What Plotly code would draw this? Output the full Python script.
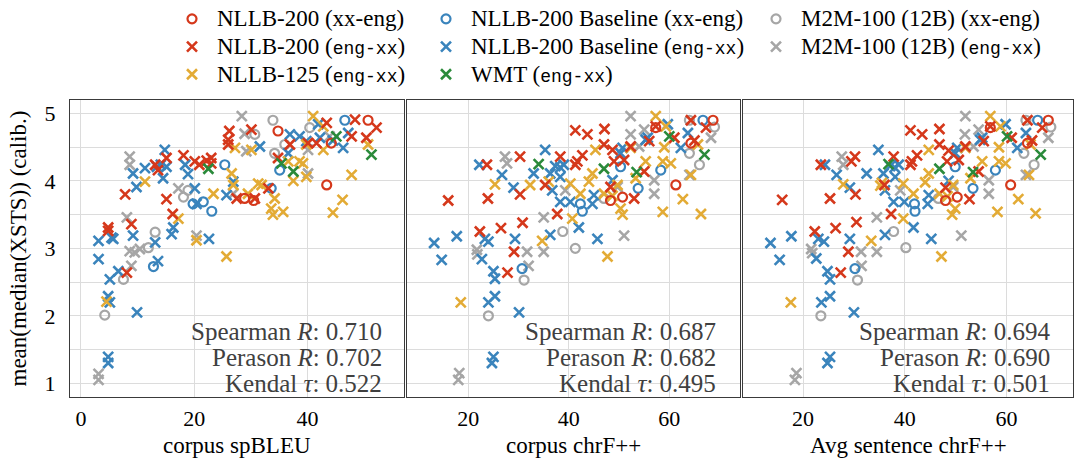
import plotly.graph_objects as go

# ---------------- data ----------------
# Panel 1: corpus spBLEU
p1_nllb_xe_x = [50.7, 34.8, 44.2, 43.4, 28.9, 30.5]
p1_nllb_xe_y = [4.90, 4.74, 4.56, 3.94, 3.74, 3.71]
p1_base_xe_x = [46.6, 35.1, 25.4, 33.6, 19.8, 21.6, 23.1, 12.8]
p1_base_xe_y = [4.90, 4.16, 4.24, 3.89, 3.66, 3.69, 3.55, 2.73]
p1_m2m_xe_x = [33.9, 40.4, 30.7, 36.0, 34.2, 18.1, 18.9, 13.1, 11.9, 7.5, 4.2]
p1_m2m_xe_y = [4.90, 4.79, 4.69, 4.54, 4.41, 3.76, 3.86, 3.24, 3.01, 2.54, 2.01]
p1_nllb_ex_x = [48.4, 52.2, 43.4, 26.2, 30.1, 26.0, 26.0, 36.9, 34.8, 40.1, 41.6, 47.8, 50.4,
                33.1, 27.5, 30.7, 22.2, 23.0, 23.0, 20.1, 20.9, 18.1, 15.1, 16.2, 15.1, 13.1,
                13.6, 7.8, 8.9, 4.8, 4.8, 8.1]
p1_nllb_ex_y = [4.91, 4.79, 4.86, 4.74, 4.76, 4.61, 4.54, 4.54, 4.34, 4.56, 4.56, 4.66, 4.64,
                3.89, 3.74, 3.74, 4.30, 4.34, 4.26, 4.29, 4.24, 4.38, 3.73, 3.51, 4.34, 4.24,
                4.16, 3.80, 3.36, 3.31, 3.26, 2.64]
p1_base_ex_x = [41.9, 36.9, 38.6, 36.6, 39.8, 42.2, 44.5, 47.2, 46.3, 31.6, 26.9, 25.7, 18.4,
                18.9, 20.4, 20.1, 16.3, 16.0, 22.6, 14.8, 15.1, 14.5, 13.4, 14.1, 11.3, 9.2,
                9.8, 5.7, 5.4, 3.1, 9.2, 13.1, 3.1, 13.6, 6.6, 5.1, 4.8, 5.1, 9.9, 4.8, 4.8]
p1_base_ex_y = [4.84, 4.69, 4.66, 4.41, 4.59, 4.64, 4.60, 4.71, 4.49, 4.51, 3.99, 3.79, 4.24,
                4.10, 3.66, 3.89, 3.31, 3.21, 3.14, 4.46, 4.21, 4.04, 4.21, 4.24, 4.19, 4.11,
                3.91, 3.14, 3.16, 3.11, 3.19, 3.09, 2.84, 2.81, 2.66, 2.54, 2.29, 2.20, 2.05,
                1.39, 1.30]
p1_m2m_ex_x = [28.4, 28.9, 29.2, 40.1, 40.1, 43.9, 26.9, 17.2, 8.6, 8.6, 8.1, 20.4, 8.6, 9.5,
               10.4, 8.9, 3.1, 3.1]
p1_m2m_ex_y = [4.96, 4.70, 4.44, 4.11, 4.46, 4.66, 3.81, 3.89, 4.36, 4.24, 3.46, 3.19, 2.96,
               2.94, 2.99, 2.74, 1.14, 1.05]
p1_n125_ex_x = [41.0, 42.8, 27.2, 30.1, 36.6, 38.6, 39.2, 39.8, 37.5, 39.8, 42.8, 50.7, 47.8,
                46.2, 44.5, 34.2, 33.6, 33.9, 35.7, 31.3, 31.9, 29.5, 26.9, 26.6, 23.4, 17.2,
                20.4, 11.3, 25.7, 4.5]
p1_n125_ex_y = [4.96, 4.81, 4.49, 4.46, 4.29, 4.29, 4.26, 4.06, 4.00, 4.54, 4.46, 4.54, 4.09,
                3.72, 3.53, 3.74, 3.59, 3.50, 3.54, 3.96, 3.94, 3.81, 3.94, 4.11, 3.81, 3.44,
                3.12, 3.99, 2.88, 2.21]
p1_wmt_ex_x = [22.5, 35.4, 37.5, 45.1, 51.3]
p1_wmt_ex_y = [4.18, 4.26, 4.14, 4.66, 4.39]

# Panel 2: corpus chrF++
p2_nllb_xe_x = [68.7, 57.3, 64.3, 61.3, 50.7, 48.3]
p2_nllb_xe_y = [4.90, 4.79, 4.56, 3.94, 3.76, 3.71]
p2_base_xe_x = [66.7, 50.3, 58.3, 53.8, 42.3, 42.7, 30.7]
p2_base_xe_y = [4.90, 4.21, 4.16, 3.89, 3.66, 3.55, 2.70]
p2_m2m_xe_x = [64.0, 69.0, 64.0, 66.0, 47.0, 38.8, 41.3, 31.1, 24.0]
p2_m2m_xe_y = [4.90, 4.80, 4.41, 4.24, 3.74, 3.25, 3.00, 2.53, 2.00]
p2_nllb_ex_x = [64.3, 67.3, 57.3, 41.3, 43.7, 47.1, 56.0, 61.0, 65.0, 47.0, 48.7, 52.3, 51.0,
                49.0, 55.0, 48.3, 53.0, 38.3, 41.3, 41.7, 42.7, 30.3, 23.7, 35.3, 30.3, 23.9,
                16.0, 37.7, 30.8, 26.5, 22.3, 29.1, 27.8]
p2_nllb_ex_y = [4.90, 4.79, 4.81, 4.75, 4.69, 4.77, 4.59, 4.64, 4.60, 4.54, 4.46, 4.51, 4.31,
                4.29, 4.14, 3.91, 3.74, 4.36, 4.24, 4.29, 4.38, 4.36, 4.24, 3.94, 3.80, 3.74,
                3.71, 3.51, 3.38, 3.30, 3.25, 2.95, 2.64]
p2_base_ex_x = [59.7, 55.7, 55.3, 63.7, 62.3, 50.7, 50.3, 48.7, 45.0, 44.7, 38.3, 40.3, 36.7,
                38.3, 36.3, 33.0, 37.3, 38.3, 39.0, 35.3, 22.2, 26.7, 29.0, 42.0, 36.3, 29.3,
                23.3, 24.0, 17.7, 13.2, 45.7, 14.7, 22.7, 25.0, 25.3, 24.0, 25.3, 30.1, 25.0, 24.7]
p2_base_ex_y = [4.84, 4.64, 4.61, 4.71, 4.49, 4.49, 4.41, 4.01, 3.79, 3.66, 3.69, 3.69, 3.86,
                4.06, 4.11, 4.11, 4.22, 4.20, 4.24, 4.46, 4.24, 4.09, 3.90, 3.31, 3.20, 3.14,
                3.14, 3.10, 3.18, 3.08, 3.14, 2.83, 2.84, 2.66, 2.55, 2.20, 2.29, 2.05, 1.39, 1.30]
p2_m2m_ex_x = [52.3, 55.0, 52.3, 54.0, 68.3, 64.0, 57.0, 57.0, 49.7, 39.3, 27.3, 27.7, 35.0,
               51.0, 21.7, 21.8, 31.7, 35.0, 32.0, 18.2, 18.0]
p2_m2m_ex_y = [4.96, 4.76, 4.69, 4.51, 4.64, 4.09, 4.01, 3.81, 3.91, 3.86, 4.36, 4.26, 3.46,
               3.19, 2.98, 2.91, 2.95, 2.95, 2.74, 1.15, 1.05]
p2_n125_ex_x = [57.3, 59.3, 65.7, 64.3, 62.7, 58.7, 66.3, 45.3, 52.3, 55.3, 58.7, 60.3, 53.3,
                44.7, 44.0, 42.3, 47.0, 48.7, 50.3, 50.7, 40.3, 36.0, 32.3, 25.3, 40.7, 34.7,
                47.7, 18.5, 49.7, 59.0]
p2_n125_ex_y = [4.96, 4.81, 4.54, 4.09, 3.73, 3.54, 3.51, 4.46, 4.49, 4.29, 4.29, 4.26, 4.04,
                4.11, 3.99, 3.81, 3.81, 3.78, 3.59, 3.50, 3.96, 3.99, 3.94, 3.95, 3.44, 3.11,
                2.88, 2.20, 3.94, 4.50]
p2_wmt_ex_x = [34.0, 47.0, 53.5, 60.0, 67.0]
p2_wmt_ex_y = [4.25, 4.18, 4.13, 4.66, 4.39]

# Panel 3: Avg sentence chrF++
p3_nllb_xe_x = [68.2, 56.8, 64.1, 60.8, 50.3, 48.0]
p3_nllb_xe_y = [4.90, 4.79, 4.56, 3.94, 3.76, 3.71]
p3_base_xe_x = [66.1, 49.9, 57.8, 53.4, 41.9, 42.0, 30.2]
p3_base_xe_y = [4.90, 4.21, 4.16, 3.89, 3.66, 3.55, 2.70]
p3_m2m_xe_x = [63.8, 68.7, 63.4, 65.4, 46.6, 37.8, 40.2, 30.7, 23.5]
p3_m2m_xe_y = [4.90, 4.80, 4.41, 4.24, 3.74, 3.25, 3.01, 2.53, 2.00]
p3_nllb_ex_x = [64.1, 67.0, 56.8, 41.1, 43.4, 46.8, 55.5, 61.0, 65.0, 46.8, 48.6, 51.9, 50.6,
                48.3, 54.5, 48.0, 52.7, 37.8, 41.1, 41.4, 42.4, 30.2, 29.5, 23.5, 30.3, 25.3,
                15.9, 37.3, 30.5, 26.4, 22.3, 28.9, 27.4, 36.0]
p3_nllb_ex_y = [4.90, 4.79, 4.81, 4.75, 4.69, 4.77, 4.59, 4.64, 4.60, 4.54, 4.45, 4.51, 4.31,
                4.29, 4.14, 3.90, 3.73, 4.36, 4.24, 4.29, 4.38, 4.36, 4.29, 4.24, 3.80, 3.74,
                3.72, 3.51, 3.39, 3.30, 3.25, 2.95, 2.64, 3.94]
p3_base_ex_x = [59.8, 55.2, 54.8, 63.8, 62.1, 50.3, 49.9, 48.6, 44.7, 44.5, 37.8, 39.9, 36.1,
                38.1, 35.8, 32.5, 37.1, 38.0, 38.8, 34.8, 24.3, 26.6, 29.2, 41.7, 36.1, 29.2,
                23.0, 24.1, 17.7, 13.6, 45.2, 15.4, 22.6, 24.8, 25.3, 23.6, 25.3, 30.0, 25.3, 24.8]
p3_base_ex_y = [4.84, 4.64, 4.61, 4.71, 4.49, 4.49, 4.41, 4.00, 3.79, 3.66, 3.69, 3.69, 3.86,
                4.06, 4.11, 4.11, 4.22, 4.20, 4.24, 4.46, 4.24, 4.09, 3.90, 3.31, 3.20, 3.14,
                3.14, 3.10, 3.18, 3.08, 3.14, 2.83, 2.85, 2.66, 2.54, 2.20, 2.29, 2.05, 1.39, 1.30]
p3_m2m_ex_x = [51.9, 54.5, 51.8, 53.5, 68.2, 63.8, 56.5, 56.5, 49.5, 39.1, 27.6, 27.9, 34.5,
               51.1, 21.6, 21.8, 31.4, 34.5, 31.5, 18.7, 18.4]
p3_m2m_ex_y = [4.96, 4.76, 4.69, 4.51, 4.64, 4.09, 4.01, 3.81, 3.91, 3.86, 4.36, 4.24, 3.46,
               3.19, 2.99, 2.93, 2.95, 2.95, 2.74, 1.15, 1.05]
p3_n125_ex_x = [56.8, 58.8, 64.7, 64.4, 62.3, 58.2, 65.7, 44.7, 51.9, 55.2, 58.5, 59.8, 52.9,
                44.7, 44.0, 41.7, 46.8, 48.4, 49.9, 49.3, 39.7, 35.5, 35.2, 27.9, 39.7, 33.4,
                47.2, 17.6, 49.5, 58.5]
p3_n125_ex_y = [4.96, 4.81, 4.54, 4.09, 3.73, 3.54, 3.52, 4.46, 4.49, 4.29, 4.29, 4.26, 4.04,
                4.11, 3.98, 3.81, 3.81, 3.77, 3.59, 3.50, 3.96, 3.97, 3.93, 3.95, 3.44, 3.11,
                2.88, 2.20, 3.94, 4.50]
p3_wmt_ex_x = [36.8, 46.8, 53.4, 60.1, 66.7]
p3_wmt_ex_y = [4.25, 4.18, 4.13, 4.66, 4.39]

x_titles = ["corpus spBLEU", "corpus chrF++", "Avg sentence chrF++"]
y_title = "mean(median(XSTS)) (calib.)"
spearman = ["0.710", "0.687", "0.694"]
pearson = ["0.702", "0.682", "0.690"]
kendall = ["0.522", "0.495", "0.501"]

# ---------------- style ----------------
RED = "#d5381b"
BLUE = "#3a84bc"
YEL = "#e3ab35"
GRN = "#2a8a3a"
GRY = "#a6a6a6"
SERIF = "Liberation Serif"
MONO = "Liberation Mono"


def tt(s):
    return '<span style="font-family:%s;font-size:18px">%s</span>' % (MONO, s)


def big(s):
    return '<span style="font-size:23px">%s</span>' % s


series = [
    # key, name, color, symbol, legend
    ("nllb_xe", big("NLLB-200 (xx-eng)"), RED, "o", "legend"),
    ("nllb_ex", big("NLLB-200 (" + tt("eng-xx") + ")"), RED, "x", "legend"),
    ("n125_ex", big("NLLB-125 (" + tt("eng-xx") + ")"), YEL, "x", "legend"),
    ("base_xe", big("NLLB-200 Baseline (xx-eng)"), BLUE, "o", "legend2"),
    ("base_ex", big("NLLB-200 Baseline (" + tt("eng-xx") + ")"), BLUE, "x", "legend2"),
    ("wmt_ex", big("WMT (" + tt("eng-xx") + ")"), GRN, "x", "legend2"),
    ("m2m_xe", big("M2M-100 (12B) (xx-eng)"), GRY, "o", "legend3"),
    ("m2m_ex", big("M2M-100 (12B) (" + tt("eng-xx") + ")"), GRY, "x", "legend3"),
]

# drawing order (back to front)
draw_order = ["m2m_ex", "m2m_xe", "base_ex", "base_xe", "n125_ex", "nllb_ex", "nllb_xe", "wmt_ex"]

g = globals()
fig = go.Figure()
for key in draw_order:
    name, color, sym, leg = [(s[1], s[2], s[3], s[4]) for s in series if s[0] == key][0]
    for p in range(3):
        xs = g["p%d_%s_x" % (p + 1, key)]
        ys = g["p%d_%s_y" % (p + 1, key)]
        if sym == "o":
            marker = dict(symbol="circle-open", size=9, color=color, line=dict(width=2.2, color=color))
        else:
            marker = dict(symbol="x-thin", size=10, color=color, line=dict(width=2.6, color=color))
        fig.add_trace(go.Scatter(
            x=xs, y=ys, mode="markers", marker=marker, name=name,
            legendgroup=key, showlegend=(p == 0), legend=leg,
            xaxis="x" if p == 0 else "x%d" % (p + 1),
            yaxis="y" if p == 0 else "y%d" % (p + 1),
            hoverinfo="x+y",
        ))

rank = {s[0]: i for i, s in enumerate(series)}
for tr in fig.data:
    tr.legendrank = rank[tr.legendgroup]

W, H = 1075, 462
ML, MR, MT, MB = 70, 2, 100, 65
PW = W - ML - MR
PH = H - MT - MB
px_dom = [(70, 404), (407, 740), (743, 1073)]
doms = [[(a - ML) / PW, (b - ML) / PW] for a, b in px_dom]
xranges = [[-1.94, 57.05], [7.8, 74.07], [8.2, 73.05]]
yrange = [0.796, 5.2]

axis_common = dict(
    showline=True, mirror=True, linecolor="#3a3a3a", linewidth=1,
    showgrid=True, gridcolor="#dcdcdc", gridwidth=1, zeroline=False,
    ticks="", tickfont=dict(family=SERIF, size=22, color="#000"),
)

layout = dict(
    width=W, height=H,
    margin=dict(l=ML, r=MR, t=MT, b=MB, autoexpand=False),
    plot_bgcolor="white", paper_bgcolor="white",
    font=dict(family=SERIF, size=20, color="#000"),
)
for i in range(3):
    sx = "xaxis" if i == 0 else "xaxis%d" % (i + 1)
    sy = "yaxis" if i == 0 else "yaxis%d" % (i + 1)
    layout[sx] = dict(axis_common, domain=doms[i], range=xranges[i], dtick=20, tick0=0,
                      anchor="y" if i == 0 else "y%d" % (i + 1), ticklabelstandoff=2)
    layout[sy] = dict(axis_common, domain=[0, 1], range=yrange, dtick=1, tick0=0,
                      minor=dict(dtick=0.5, showgrid=True, gridcolor="#dcdcdc", gridwidth=1),
                      anchor="x" if i == 0 else "x%d" % (i + 1),
                      showticklabels=(i == 0), ticklabelstandoff=9)
fig.update_layout(**layout)

leg_common = dict(
    orientation="v", xref="container", yref="container", xanchor="left", yanchor="top",
    bgcolor="rgba(0,0,0,0)", borderwidth=0, traceorder="grouped", tracegroupgap=0,
    font=dict(family=SERIF, size=19, color="#000"), itemwidth=40,
)
LY = 1 + 23 / H
fig.update_layout(
    legend=dict(leg_common, x=167 / W, y=LY),
    legend2=dict(leg_common, x=421 / W, y=LY),
    legend3=dict(leg_common, x=751 / W, y=LY),
)

ann = []
right_px = [384, 718, 1052]
line_y = [331, 357, 383]
for i in range(3):
    xr = "x domain" if i == 0 else "x%d domain" % (i + 1)
    yr = "y domain" if i == 0 else "y%d domain" % (i + 1)
    a, b = px_dom[i]
    texts = ["Spearman <i>R</i>: " + spearman[i],
             "Perason <i>R</i>: " + pearson[i],
             "Kendal <i>τ</i>: " + kendall[i]]
    for t, yp in zip(texts, line_y):
        ann.append(dict(text=t, xref=xr, yref=yr, x=(right_px[i] - a) / (b - a),
                        y=(MT + PH - yp) / PH,
                        xanchor="right", yanchor="middle", showarrow=False,
                        font=dict(family=SERIF, size=25, color="#404040")))
    ann.append(dict(text=x_titles[i], xref=xr, yref="paper", x=0.5, y=(H - 445 - MB) / PH,
                    xanchor="center", yanchor="middle", showarrow=False,
                    font=dict(family=SERIF, size=23, color="#000")))
ann.append(dict(text=y_title, xref="paper", yref="paper", x=(18 - ML) / PW, y=0.5,
                xanchor="center", yanchor="middle", textangle=-90, showarrow=False,
                font=dict(family=SERIF, size=23, color="#000")))
fig.update_layout(annotations=ann)

fig.write_html("out.html", config={"displayModeBar": False},
               post_script="document.body.style.margin='0px';")
